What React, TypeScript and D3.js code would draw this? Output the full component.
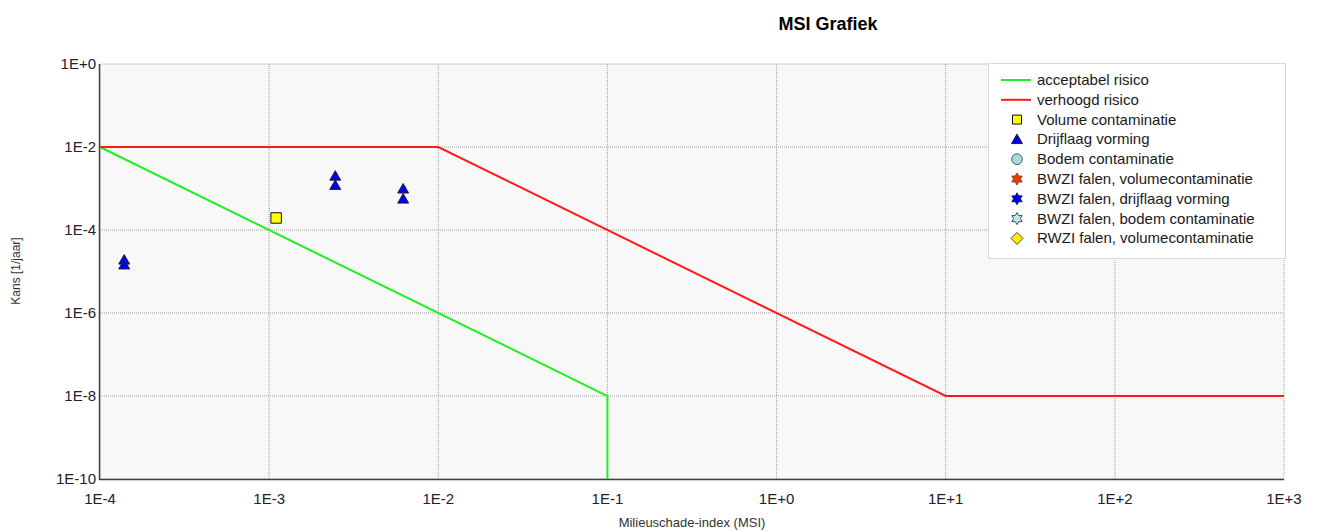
import React from "react";
import * as d3 from "d3";

const xTicks = [1e-4, 1e-3, 1e-2, 1e-1, 1e0, 1e1, 1e2, 1e3];
const xTickLabels = ["1E-4", "1E-3", "1E-2", "1E-1", "1E+0", "1E+1", "1E+2", "1E+3"];
const yTicks = [1e0, 1e-2, 1e-4, 1e-6, 1e-8, 1e-10];
const yTickLabels = ["1E+0", "1E-2", "1E-4", "1E-6", "1E-8", "1E-10"];

const acceptX = [1e-4, 1e-1, 1e-1];
const acceptY = [1e-2, 1e-8, 1e-10];
const verhoogdX = [1e-4, 1e-2, 1e1, 1e3];
const verhoogdY = [1e-2, 1e-2, 1e-8, 1e-8];

const volumeX = [1.1e-3];
const volumeY = [1.95e-4];
const drijflaagX = [1.39e-4, 1.39e-4, 2.46e-3, 2.46e-3, 6.2e-3, 6.2e-3];
const drijflaagY = [1.9e-5, 1.45e-5, 2.0e-3, 1.2e-3, 9.8e-4, 5.6e-4];

const legendLabels = [
  "acceptabel risico",
  "verhoogd risico",
  "Volume contaminatie",
  "Drijflaag vorming",
  "Bodem contaminatie",
  "BWZI falen, volumecontaminatie",
  "BWZI falen, drijflaag vorming",
  "BWZI falen, bodem contaminatie",
  "RWZI falen, volumecontaminatie",
];

const W = 1320;
const H = 532;
const left = 100;
const right = 1284;
const top = 64;
const bottom = 479;
const font = "'Liberation Sans', Arial, sans-serif";

function starPath(r: number) {
  const pts: [number, number][] = [];
  for (let i = 0; i < 12; i++) {
    const a = (Math.PI / 6) * i - Math.PI / 2;
    const rr = i % 2 === 0 ? r : r * 0.58;
    pts.push([rr * Math.cos(a), rr * Math.sin(a)]);
  }
  return "M" + pts.map((p) => p.join(",")).join("L") + "Z";
}

export default function App() {
  const x = d3.scaleLog().domain([1e-4, 1e3]).range([left, right]);
  const y = d3.scaleLog().domain([1e-10, 1e0]).range([bottom, top]);
  const line = d3
    .line<[number, number]>()
    .x((d) => x(d[0]))
    .y((d) => y(d[1]));
  const acc = acceptX.map((v, i) => [v, acceptY[i]] as [number, number]);
  const ver = verhoogdX.map((v, i) => [v, verhoogdY[i]] as [number, number]);
  const tri = d3.symbol().type(d3.symbolTriangle).size(52)() as string;
  const sq = d3.symbol().type(d3.symbolSquare).size(110)() as string;
  const circ = d3.symbol().type(d3.symbolCircle).size(90)() as string;
  const diamond = "M0,-6L6,0L0,6L-6,0Z";
  const star = starPath(6);

  const legX = 988;
  const legY = 63;
  const rowY = (i: number) => legY + 17 + i * 19.8;

  return (
    <svg width={W} height={H} style={{ display: "block", position: "absolute", left: 0, top: 0 }}>
      <rect x={0} y={0} width={W} height={H} fill="#ffffff" />
      <text x={828} y={30} textAnchor="middle" fontFamily={font} fontSize={18} fontWeight="bold" fill="#000">
        MSI Grafiek
      </text>
      <rect x={left} y={top} width={right - left} height={bottom - top} fill="#f8f8f8" />
      {xTicks.map((t, i) => (
        <line key={"gx" + i} x1={x(t)} x2={x(t)} y1={top} y2={bottom} stroke="#a0a0a0" strokeDasharray="1,1" strokeWidth={1} />
      ))}
      {yTicks.map((t, i) => (
        <line key={"gy" + i} x1={left} x2={right} y1={y(t)} y2={y(t)} stroke="#a0a0a0" strokeDasharray="1,1" strokeWidth={1} />
      ))}
      <line x1={left - 0.5} x2={left - 0.5} y1={top} y2={bottom + 1} stroke="#404040" strokeWidth={1.5} />
      <line x1={left - 1} x2={right} y1={bottom + 0.5} y2={bottom + 0.5} stroke="#404040" strokeWidth={1.5} />
      {xTicks.map((t, i) => (
        <text key={"xl" + i} x={x(t)} y={504} textAnchor="middle" fontFamily={font} fontSize={15} fill="#202030">
          {xTickLabels[i]}
        </text>
      ))}
      {yTicks.map((t, i) => (
        <text key={"yl" + i} x={left - 4} y={y(t) + 5} textAnchor="end" fontFamily={font} fontSize={15} fill="#202030">
          {yTickLabels[i]}
        </text>
      ))}
      <text x={692} y={527} textAnchor="middle" fontFamily={font} fontSize={13} fill="#333">
        Milieuschade-index (MSI)
      </text>
      <text transform="translate(20,271) rotate(-90)" textAnchor="middle" fontFamily={font} fontSize={12} fill="#333">
        Kans [1/jaar]
      </text>
      <path d={line(acc) as string} fill="none" stroke="#22ee22" strokeWidth={2} />
      <path d={line(ver) as string} fill="none" stroke="#ff1a1a" strokeWidth={2} />
      {drijflaagX.map((v, i) => (
        <path key={"d" + i} d={tri} transform={`translate(${x(v)},${y(drijflaagY[i]) + 1})`} fill="#0000ee" stroke="#202040" strokeWidth={1} />
      ))}
      {volumeX.map((v, i) => (
        <path key={"v" + i} d={sq} transform={`translate(${x(v)},${y(volumeY[i])})`} fill="#ffff00" stroke="#111" strokeWidth={1} />
      ))}
      <rect x={legX + 0.5} y={legY + 0.5} width={297} height={195} fill="#ffffff" stroke="#d8d8d8" strokeWidth={1} />
      {legendLabels.map((lab, i) => {
        const cy = rowY(i);
        const mx = 1017;
        let sym: React.ReactNode = null;
        if (i === 0) sym = <line x1={1001} x2={1031} y1={cy} y2={cy} stroke="#22ee22" strokeWidth={2} />;
        else if (i === 1) sym = <line x1={1001} x2={1031} y1={cy} y2={cy} stroke="#ff1a1a" strokeWidth={2} />;
        else if (i === 2) sym = <path d={d3.symbol().type(d3.symbolSquare).size(81)() as string} transform={`translate(${mx},${cy})`} fill="#ffff00" stroke="#111" />;
        else if (i === 3) sym = <path d={tri} transform={`translate(${mx},${cy + 1})`} fill="#0000ee" stroke="#202040" />;
        else if (i === 4) sym = <path d={circ} transform={`translate(${mx},${cy})`} fill="#a8d8e0" stroke="#506070" />;
        else if (i === 5) sym = <path d={star} transform={`translate(${mx},${cy})`} fill="#e04010" stroke="#803020" strokeWidth={0.8} />;
        else if (i === 6) sym = <path d={star} transform={`translate(${mx},${cy})`} fill="#0000dd" stroke="#101060" strokeWidth={0.8} />;
        else if (i === 7) sym = <path d={star} transform={`translate(${mx},${cy})`} fill="#c0e8ec" stroke="#405058" strokeWidth={1} />;
        else sym = <path d={diamond} transform={`translate(${mx},${cy})`} fill="#ffee00" stroke="#505020" />;
        return (
          <g key={"leg" + i}>
            {sym}
            <text x={1037} y={cy + 5} fontFamily={font} fontSize={15} fill="#1a1a1a">
              {lab}
            </text>
          </g>
        );
      })}
    </svg>
  );
}
